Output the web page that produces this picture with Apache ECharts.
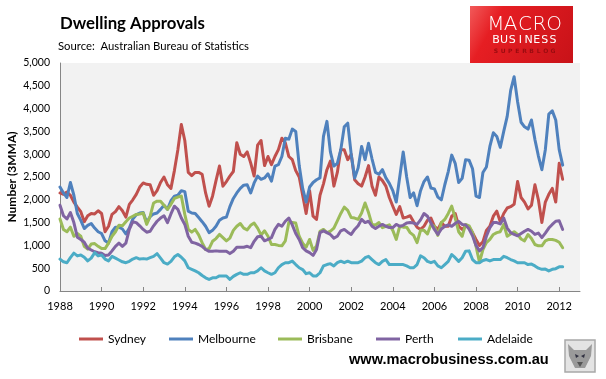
<!DOCTYPE html>
<html><head><meta charset="utf-8">
<script src="https://cdn.jsdelivr.net/npm/echarts@6/dist/echarts.min.js"></script>
<style>html,body{margin:0;padding:0;background:#fff;}#c{width:606px;height:379px;}</style>
</head><body><div id="c"></div>
<script>
const FONT = 'Lato, "Open Sans", sans-serif';

// time index: every 2 months from Jan 1988
const startYear = 1988, stepsPerYear = 6, count = 146;
const months = [];
for (let k = 0; k < count; k++) months.push(startYear + k / stepsPerYear);

const yTicks = [0, 500, 1000, 1500, 2000, 2500, 3000, 3500, 4000, 4500, 5000];
const xTickYears = [1988, 1990, 1992, 1994, 1996, 1998, 2000, 2002, 2004, 2006, 2008, 2010, 2012];

const sydney = [
  2150,2120,2170,2100,1950,1840,1740,1520,1650,1700,1690,1760,1700,1300,1420,1680,1740,1850,1760,1620,1900,2000,2120,2280,2370,2340,2330,2100,2200,2380,2500,
  2330,2250,2640,3100,3650,3300,2600,2530,2600,2600,2560,2150,1860,2080,2420,2740,2300,2400,2520,2620,3250,3000,2950,3050,2810,2520,3200,3300,2750,2950,
  2770,2950,3100,3350,3250,2950,2880,2640,2500,2100,1700,2200,1640,1570,2100,2350,2660,2850,2300,2600,3100,3100,2880,3000,2440,2350,2300,2500,2750,2300,
  2100,2500,2420,2300,2050,1860,1680,1850,1600,1620,1650,1520,1400,1350,1420,1550,1600,1420,1350,1500,1420,1420,1640,1700,1420,1350,1420,1400,1280,1130,
  1000,1080,1330,1420,1640,1750,1520,1700,1820,1850,1900,2400,2050,1950,1800,1880,2330,2000,1500,1950,2120,2250,1950,2800,2450
];
const melbourne = [
  2280,2150,2050,2380,2100,1700,1550,1370,1440,1480,1380,1300,1260,1100,1050,1300,1400,1400,1360,1250,1380,1580,1670,1710,1720,1500,1630,1690,1710,1790,1880,
  1790,1980,2080,2100,2200,2180,1750,1710,1700,1610,1520,1420,1280,1330,1420,1550,1600,1620,1850,2030,2150,2250,2320,2330,2150,2370,2520,2450,2480,2570,
  2410,2740,2770,2950,3350,3330,3550,3500,2750,2250,1950,2280,2380,2440,2480,3390,3720,3050,2740,2800,3100,3600,3680,3000,2480,2700,3170,2880,3240,2900,
  2600,2560,2660,2480,2360,2200,1950,2500,3050,2500,2050,2150,1870,2200,2400,2500,2260,2240,2060,2000,2330,2620,2980,2800,2380,2470,2880,2870,2680,2080,
  2050,2600,2720,3170,3470,3390,3150,3500,3830,4400,4700,4150,3700,3600,3550,3750,3320,2960,2660,3100,3880,3950,3750,3100,2760
];
const brisbane = [
  1580,1350,1300,1400,1200,1260,1200,980,920,1030,1040,980,930,930,1050,1200,1300,1440,1430,1520,1600,1640,1680,1690,1710,1460,1640,1930,1970,1970,1880,
  1790,1900,2030,2060,2080,1680,1350,1290,1350,1230,1060,910,930,1090,1150,1240,1170,1100,1160,1330,1420,1480,1380,1340,1440,1490,1380,1230,1320,1200,
  1020,1020,1000,990,1100,1500,1500,1490,1200,1050,960,1130,890,990,1310,1350,1280,1310,1380,1540,1700,1840,1770,1610,1600,1570,1710,1930,1720,1460,
  1450,1500,1390,1420,1450,1330,1130,1420,1400,1400,1280,1220,1060,1330,1330,1250,1460,1420,1220,1500,1570,1700,1860,1600,1300,1200,1460,1430,1280,985,
  630,910,1060,1130,1240,1280,1300,1460,1200,1250,1300,1240,1140,1100,1240,1150,1020,990,990,1100,1130,1130,1110,1070,950
];
const perth = [
  1880,1650,1580,1720,1500,1180,1130,1070,940,900,860,840,830,780,790,880,980,1050,980,1050,1350,1520,1500,1430,1350,1290,1310,1430,1530,1600,1650,
  1500,1690,1860,1790,1600,1460,1200,1070,1050,1020,980,910,870,870,880,870,870,870,820,870,960,960,960,980,950,1090,1190,1200,1100,1130,
  1170,1350,1460,1420,1530,1600,1450,1260,1130,950,880,840,780,910,1280,1320,1280,1240,1160,1200,1320,1350,1290,1240,1350,1430,1570,1500,1530,1420,
  1370,1420,1460,1420,1390,1390,1460,1420,1440,1490,1500,1490,1460,1560,1700,1640,1490,1350,1240,1360,1420,1450,1420,1480,1530,1460,1450,1360,1210,1000,
  880,950,1200,1390,1500,1500,1470,1600,1380,1280,1240,1210,1260,1310,1350,1310,1240,1270,1170,1270,1380,1460,1530,1540,1350
];
const adelaide = [
  700,640,620,730,830,770,790,740,660,720,840,770,790,700,660,760,720,680,640,620,650,700,730,700,710,700,730,760,820,720,620,
  590,650,750,800,740,660,510,475,440,400,340,290,255,290,290,330,330,330,255,320,365,400,365,365,400,400,440,510,440,400,
  365,400,510,580,620,620,655,580,510,470,380,400,330,330,400,550,580,600,550,620,655,620,655,620,620,620,655,730,760,690,
  620,580,650,690,580,580,580,580,580,550,510,510,580,770,730,650,620,650,550,510,580,650,800,730,650,730,870,880,690,620,
  620,670,690,660,690,690,690,760,730,690,660,620,620,620,580,590,550,500,475,480,440,475,490,530,530
];

const seriesNames = ['Sydney', 'Melbourne', 'Brisbane', 'Perth', 'Adelaide'];
const seriesValues = [sydney, melbourne, brisbane, perth, adelaide];
const colors = ['#C0504D', '#4F81BD', '#9BBB59', '#8064A2', '#4BACC6'];
const legendLefts = [74, 164, 273, 371, 453];

function spaced(text, x0, x1, yc, font, fill) {
  const n = text.length, step = (x1 - x0) / (n - 1);
  return text.split('').map((ch, i) => ({
    type: 'text', x: x0 + i * step, y: yc,
    style: { text: ch, font: font, fill: fill, align: 'center', verticalAlign: 'middle' }
  }));
}

const chart = echarts.init(document.getElementById('c'), null, { renderer: 'canvas' });
chart.setOption({
  animation: false,
  backgroundColor: '#ffffff',
  color: colors,
  grid: { left: 60, top: 63, width: 520, height: 228, show: true, backgroundColor: '#F2F2F2', borderWidth: 0, containLabel: false, outerBoundsMode: 'none' },
  xAxis: {
    type: 'value', min: 1988, max: 2013, interval: 2,
    axisLine: { show: true, onZero: false, lineStyle: { color: '#868686', width: 1 } },
    axisTick: { show: true, inside: true, length: 4, lineStyle: { color: '#868686' } },
    splitLine: { show: false },
    axisLabel: {
      color: '#000', fontFamily: FONT, fontSize: 11, margin: 10, showMaxLabel: false,
      formatter: v => (xTickYears.indexOf(v) >= 0 ? String(v) : '')
    }
  },
  yAxis: {
    type: 'value', min: 0, max: 5000, interval: 500,
    name: 'Number (3MMA)', nameLocation: 'middle', nameGap: 42, nameMoveOverlap: false,
    nameTextStyle: { color: '#000', fontFamily: FONT, fontSize: 12, fontWeight: 'bold' },
    axisLine: { show: true, lineStyle: { color: '#868686', width: 1 } },
    axisTick: { show: false },
    splitLine: { show: false },
    axisLabel: {
      color: '#000', fontFamily: FONT, fontSize: 10.5, margin: 10,
      formatter: v => (yTicks.indexOf(v) >= 0 ? v.toLocaleString('en-US') : '')
    }
  },
  legend: seriesNames.map((name, i) => ({
    data: [name], left: legendLefts[i], top: 328, itemWidth: 24, itemHeight: 3, itemGap: 0,
    icon: 'rect', textStyle: { color: '#000', fontFamily: FONT, fontSize: 12 }
  })),
  series: seriesNames.map((name, i) => ({
    name: name, type: 'line', showSymbol: false, symbol: 'none',
    data: months.map((t, j) => [t, seriesValues[i][j]]),
    lineStyle: { width: 3, color: colors[i], cap: 'round', join: 'round' },
    itemStyle: { color: colors[i] },
    z: 2 + i
  })),
  graphic: [
    { type: 'text', x: 60, y: 24, style: { text: 'Dwelling Approvals', font: 'bold 16.8px ' + FONT, fill: '#000', verticalAlign: 'middle' } },
    { type: 'text', x: 58, y: 46, style: { text: 'Source:  Australian Bureau of Statistics', font: '11.3px ' + FONT, fill: '#000', verticalAlign: 'middle' } },
    { type: 'rect', shape: { x: 470, y: 6, width: 103, height: 57 },
      style: { fill: new echarts.graphic.LinearGradient(0, 0, 1, 1, [
        { offset: 0, color: '#f25a5a' }, { offset: 0.25, color: '#e61e23' }, { offset: 1, color: '#c81218' }]) } },
    ...spaced('MACRO', 496, 554, 25, '200 20px "DejaVu Sans", sans-serif', '#ffffff'),
    ...spaced('BUSINESS', 496, 553, 40, '11px "DejaVu Sans", sans-serif', '#ffffff'),
    ...spaced('SUPERBLOG', 496, 553, 51.5, 'bold 6px "DejaVu Sans", sans-serif', '#9a0c10'),
    { type: 'text', x: 349, y: 360, style: { text: 'www.macrobusiness.com.au', font: 'bold 14.6px "Liberation Sans", sans-serif', fill: '#000', verticalAlign: 'middle' } },
    { type: 'rect', shape: { x: 565, y: 340, width: 30, height: 32 }, style: { fill: '#e4e4e4', stroke: '#a8a8a8', lineWidth: 1.5 } },
    { type: 'polygon', shape: { points: [[568, 344], [574, 350], [586, 350], [592, 344], [591, 356], [585, 368], [575, 368], [569, 356]] }, style: { fill: '#9a9a9a' } },
    { type: 'polygon', shape: { points: [[575, 354], [579, 356], [576, 358]] }, style: { fill: '#303040' } },
    { type: 'polygon', shape: { points: [[585, 354], [581, 356], [584, 358]] }, style: { fill: '#303040' } },
    { type: 'polygon', shape: { points: [[577, 362], [583, 362], [580, 367]] }, style: { fill: '#555' } }
  ]
});
</script>
</body></html>
